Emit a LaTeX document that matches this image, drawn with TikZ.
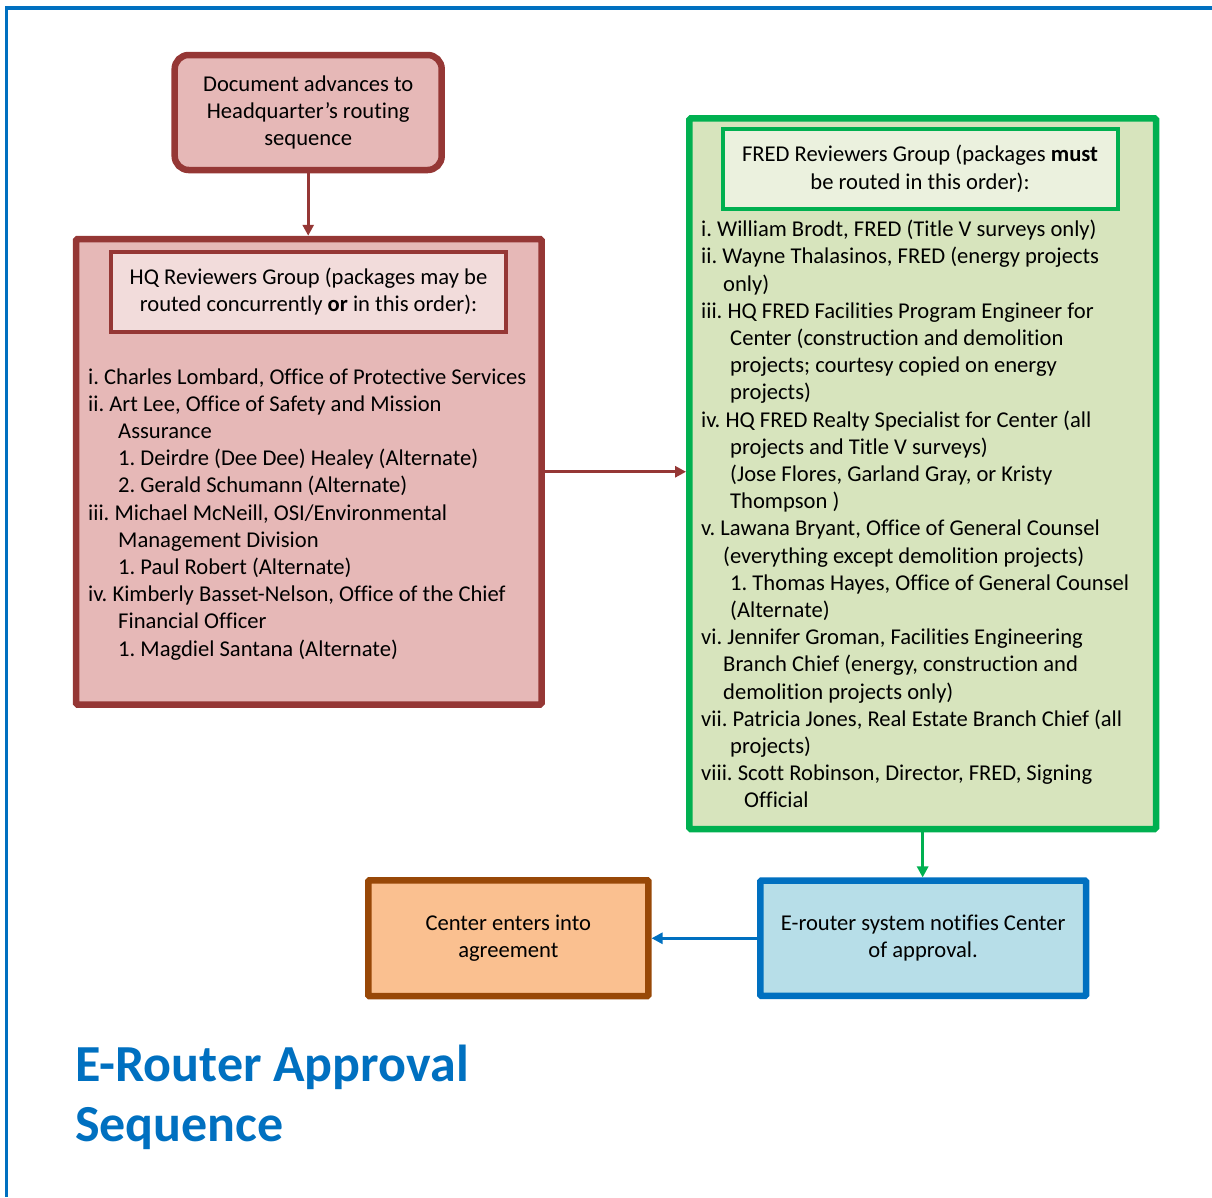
\documentclass[tikz,border=0pt]{standalone}
\usepackage{fontspec}
\setmainfont[Ligatures=NoCommon]{Carlito}
\usetikzlibrary{arrows.meta}
\frenchspacing

\definecolor{hqline}{HTML}{953735}
\definecolor{hqfill}{HTML}{E6B8B7}
\definecolor{hqhead}{HTML}{F2DCDB}
\definecolor{fredline}{HTML}{00B050}
\definecolor{fredfill}{HTML}{D7E4BD}
\definecolor{fredhead}{HTML}{EBF1DE}
\definecolor{routeline}{HTML}{0070C0}
\definecolor{routefill}{HTML}{B7DEE8}
\definecolor{agreeline}{HTML}{984807}
\definecolor{agreefill}{HTML}{FAC090}

\tikzset{
  bodyfont/.style={font=\fontsize{22.6}{27.2}\selectfont},
  panel/.style={draw, line width=6.5pt, rectangle, rounded corners=1.5pt,
    inner sep=0pt, align=center, bodyfont},
  header/.style={draw, line width=4pt, rectangle, inner sep=0pt,
    align=center, bodyfont},
  listline/.style={anchor=base west, inner sep=0pt, bodyfont},
  link/.style={line width=3.2pt, -{Triangle[length=11pt,width=11pt]}},
  titletext/.style={anchor=base west, inner sep=0pt, text=routeline,
    font=\fontsize{52}{60}\selectfont\bfseries},
}

\begin{document}
\begin{tikzpicture}[x=1pt, y=-1pt]
\useasboundingbox (0,0) rectangle (1212,1197);

% page frame
\draw[routeline, line width=3.3pt] (1212,8) -- (6.3,8) -- (6.3,1197);

% start of the routing
\node[panel, draw=hqline, fill=hqfill, rounded corners=14pt,
  minimum width=267pt, minimum height=115pt] (start) at (308.2,112.5)
  {Document advances to\\Headquarter’s routing\\sequence};

% HQ reviewers
\node[panel, draw=hqline, fill=hqfill,
  minimum width=465.5pt, minimum height=465.5pt] (hq) at (308.75,471.75) {};
\node[header, draw=hqline, fill=hqhead,
  minimum width=394.5pt, minimum height=79.7pt] (hqtitle) at (308.5,291.85)
  {HQ Reviewers Group (packages may be\\routed concurrently \textbf{or} in this order):};

\foreach \yy/\xx/\txt [count=\i] in {
  384/88/{i. Charles Lombard, Office of Protective Services},
  411.2/88/{ii. Art Lee, Office of Safety and Mission},
  438.4/118/{Assurance},
  465.6/118/{1. Deirdre (Dee Dee) Healey (Alternate)},
  492.8/118/{2. Gerald Schumann (Alternate)},
  520/88/{iii. Michael McNeill, OSI/Environmental},
  547.2/118/{Management Division},
  574.4/118/{1. Paul Robert (Alternate)},
  601.6/88/{iv. Kimberly Basset-Nelson, Office of the Chief},
  628.8/118/{Financial Officer},
  656/118/{1. Magdiel Santana (Alternate)}}
  \node[listline] (hqitem\i) at (\xx,\yy) {\txt};

% FRED reviewers
\node[panel, draw=fredline, fill=fredfill,
  minimum width=466.7pt, minimum height=710.7pt] (fred) at (922.65,473.65) {};
\node[header, draw=fredline, fill=fredhead,
  minimum width=395pt, minimum height=80.3pt] (fredtitle) at (920,168.85)
  {FRED Reviewers Group (packages \textbf{must}\\be routed in this order):};

\foreach \yy/\xx/\txt [count=\i] in {
  236.7/701/{i. William Brodt, FRED (Title V surveys only)},
  263.9/701/{ii. Wayne Thalasinos, FRED (energy projects},
  291.1/723/{only)},
  318.3/701/{iii. HQ FRED Facilities Program Engineer for},
  345.5/730/{Center (construction and demolition},
  372.7/730/{projects; courtesy copied on energy},
  399.9/730/{projects)},
  427.1/701/{iv. HQ FRED Realty Specialist for Center (all},
  454.3/730/{projects and Title V surveys)},
  481.5/730/{(Jose Flores, Garland Gray, or Kristy},
  508.7/730/{Thompson )},
  535.9/701/{v. Lawana Bryant, Office of General Counsel},
  563.1/723/{(everything except demolition projects)},
  590.3/730/{1. Thomas Hayes, Office of General Counsel},
  617.5/730/{(Alternate)},
  644.7/701/{vi. Jennifer Groman, Facilities Engineering},
  671.9/723/{Branch Chief (energy, construction and},
  699.1/723/{demolition projects only)},
  726.3/701/{vii. Patricia Jones, Real Estate Branch Chief (all},
  753.5/730/{projects)},
  780.7/701/{viii. Scott Robinson, Director, FRED, Signing},
  807.9/744/{Official}}
  \node[listline] (freditem\i) at (\xx,\yy) {\txt};

% outcome boxes
\node[panel, draw=routeline, fill=routefill, rounded corners=1pt,
  minimum width=325.7pt, minimum height=115.1pt] (notify) at (923.15,938.25)
  {E-router system notifies Center\\of approval.};
\node[panel, draw=agreeline, fill=agreefill, rounded corners=1pt,
  minimum width=280pt, minimum height=115.7pt] (agree) at (508.3,938.15)
  {Center enters into\\agreement};

% connectors
\draw[link, hqline] (start.south) -- (start.south |- hq.north);
\draw[link, hqline] (hq.east) -- (hq.east -| fred.west);
\draw[link, fredline] (fred.south) -- (fred.south |- notify.north);
\draw[link, routeline] (notify.west) -- (notify.west -| agree.east);

% title
\node[titletext] (title1) at (75,1081.7) {E-Router Approval};
\node[titletext] (title2) at (75,1141.7) {Sequence};
\end{tikzpicture}
\end{document}
